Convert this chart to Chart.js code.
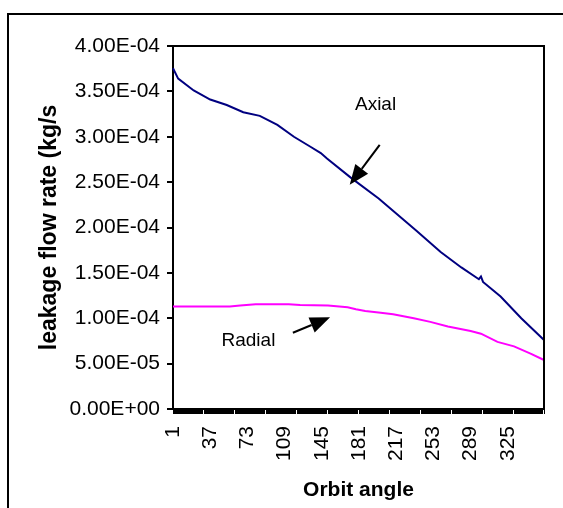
<!DOCTYPE html>
<html>
<head>
<meta charset="utf-8">
<script src="https://cdn.jsdelivr.net/npm/chart.js@4.4.1/dist/chart.umd.min.js"></script>
<style>
  html, body { margin: 0; padding: 0; background: #fff; }
  canvas { display: block; }
</style>
</head>
<body>
<canvas id="chart" width="563" height="508"></canvas>
<script>
// categories: orbit angle 1..360
const angles = Array.from({ length: 360 }, (_, i) => String(i + 1));
const xTickLabels = ["1", "37", "73", "109", "145", "181", "217", "253", "289", "325"];
const yTickValues = [0, 5e-5, 1e-4, 1.5e-4, 2e-4, 2.5e-4, 3e-4, 3.5e-4, 4e-4];

// values
const axialAngles = [1, 6, 21, 37, 53, 69, 85, 102, 118, 134, 144, 150, 173, 200, 236, 260, 280, 297, 299, 301, 318, 338, 360];
const axialValues = [3.755e-4, 3.64e-4, 3.51e-4, 3.41e-4, 3.35e-4, 3.27e-4, 3.23e-4, 3.13e-4, 3.0e-4, 2.89e-4, 2.82e-4, 2.76e-4, 2.55e-4, 2.32e-4, 1.97e-4, 1.73e-4, 1.56e-4, 1.43e-4, 1.46e-4, 1.40e-4, 1.24e-4, 1.0e-4, 7.6e-5];

const radialAngles = [1, 56, 66, 81, 113, 124, 151, 170, 178, 187, 202, 214, 234, 250, 267, 289, 299, 315, 331, 347, 360];
const radialValues = [1.13e-4, 1.13e-4, 1.14e-4, 1.155e-4, 1.155e-4, 1.145e-4, 1.14e-4, 1.12e-4, 1.10e-4, 1.08e-4, 1.06e-4, 1.045e-4, 1.0e-4, 0.96e-4, 0.91e-4, 0.86e-4, 0.83e-4, 0.74e-4, 0.69e-4, 0.61e-4, 0.54e-4];

// text labels with arrows, in data coordinates (angle, value)
const notes = [
  { text: "Axial", at: [197, 3.35e-4], from: [201, 2.91e-4], to: [172, 2.47e-4] },
  { text: "Radial", at: [74, 0.75e-4], from: [117, 0.84e-4], to: [153, 1.01e-4] }
];

const toPoints = (xs, ys) => xs.map((a, i) => ({ x: String(a), y: ys[i] }));

function sciLabel(v) {
  const [m, e] = Number(v).toExponential(2).split("e");
  const sign = e[0] === "-" ? "-" : "+";
  const digits = e.replace(/^[+-]/, "").padStart(2, "0");
  return m + "E" + sign + digits;
}

const framePlugin = {
  id: "frame",
  beforeDraw(chart) {
    const ctx = chart.ctx;
    ctx.save();
    ctx.fillStyle = "#fff";
    ctx.fillRect(0, 0, chart.width, chart.height);
    ctx.strokeStyle = "#000";
    ctx.lineWidth = 2;
    ctx.strokeRect(8, 14, 700, 700);
    ctx.restore();
  },
  afterDraw(chart) {
    const { ctx, chartArea: a } = chart;
    ctx.save();
    ctx.strokeStyle = "#000";
    ctx.lineWidth = 2;
    ctx.beginPath();
    ctx.moveTo(a.left, a.top);
    ctx.lineTo(a.right, a.top);
    ctx.lineTo(a.right, a.bottom);
    ctx.stroke();
    ctx.restore();
  }
};

const notesPlugin = {
  id: "notes",
  afterDatasetsDraw(chart) {
    const { ctx, scales: { x, y } } = chart;
    const px = (p) => [x.getPixelForValue(p[0] - 1), y.getPixelForValue(p[1])];
    ctx.save();
    ctx.fillStyle = "#000";
    ctx.strokeStyle = "#000";
    ctx.font = "19px 'Liberation Sans', Arial, sans-serif";
    ctx.textAlign = "center";
    ctx.textBaseline = "middle";
    notes.forEach(n => {
      const [tx, ty] = px(n.at);
      ctx.fillText(n.text, tx, ty);
      const [x0, y0] = px(n.from);
      const [x1, y1] = px(n.to);
      const ang = Math.atan2(y1 - y0, x1 - x0);
      const len = 20, half = 8;
      const bx = x1 - len * Math.cos(ang), by = y1 - len * Math.sin(ang);
      ctx.lineWidth = 2;
      ctx.beginPath();
      ctx.moveTo(x0, y0);
      ctx.lineTo(bx, by);
      ctx.stroke();
      ctx.beginPath();
      ctx.moveTo(x1, y1);
      ctx.lineTo(bx + half * Math.sin(ang), by - half * Math.cos(ang));
      ctx.lineTo(bx - half * Math.sin(ang), by + half * Math.cos(ang));
      ctx.closePath();
      ctx.fill();
    });
    ctx.restore();
  }
};

new Chart(document.getElementById("chart"), {
  type: "line",
  data: {
    labels: angles,
    datasets: [
      {
        label: "Axial",
        data: toPoints(axialAngles, axialValues),
        borderColor: "#000080",
        borderWidth: 2,
        pointRadius: 0,
        tension: 0
      },
      {
        label: "Radial",
        data: toPoints(radialAngles, radialValues),
        borderColor: "#FF00FF",
        borderWidth: 2,
        pointRadius: 0,
        tension: 0
      }
    ]
  },
  options: {
    responsive: false,
    animation: false,
    devicePixelRatio: 1,
    layout: { padding: { left: 0, top: 46, right: 19, bottom: 0 } },
    plugins: {
      legend: { display: false },
      tooltip: { enabled: false }
    },
    scales: {
      x: {
        type: "category",
        offset: false,
        afterFit: (s) => { s.height = 99; s.paddingLeft = 0; s.paddingRight = 0; },
        grid: { drawOnChartArea: false, drawTicks: true, tickLength: 5, color: "#000", lineWidth: 1 },
        border: { display: true, color: "#000", width: 2 },
        ticks: {
          autoSkip: false,
          minRotation: 90,
          maxRotation: 90,
          padding: 12,
          color: "#000",
          font: { family: "'Liberation Sans', Arial, sans-serif", size: 21 },
          callback: function (val) {
            const lab = this.getLabelForValue(val);
            return xTickLabels.includes(lab) ? lab : "";
          }
        },
        title: {
          display: true,
          text: "Orbit angle",
          color: "#000",
          font: { family: "'Liberation Sans', Arial, sans-serif", size: 21, weight: "bold" },
          padding: { top: 0, bottom: 5 }
        }
      },
      y: {
        min: 0,
        max: 4e-4,
        afterFit: (s) => { s.width = 173; },
        afterBuildTicks: (s) => { s.ticks = yTickValues.map(v => ({ value: v })); },
        grid: { drawOnChartArea: false, drawTicks: true, tickLength: 6, color: "#000", lineWidth: 2 },
        border: { display: true, color: "#000", width: 2 },
        ticks: {
          padding: 7,
          color: "#000",
          font: { family: "'Liberation Sans', Arial, sans-serif", size: 21 },
          callback: (v) => sciLabel(v)
        },
        title: {
          display: true,
          text: "leakage flow rate (kg/s",
          color: "#000",
          font: { family: "'Liberation Sans', Arial, sans-serif", size: 23, weight: "bold" },
          padding: { top: 36, bottom: 0 }
        }
      }
    }
  },
  plugins: [framePlugin, notesPlugin]
});
</script>
</body>
</html>
